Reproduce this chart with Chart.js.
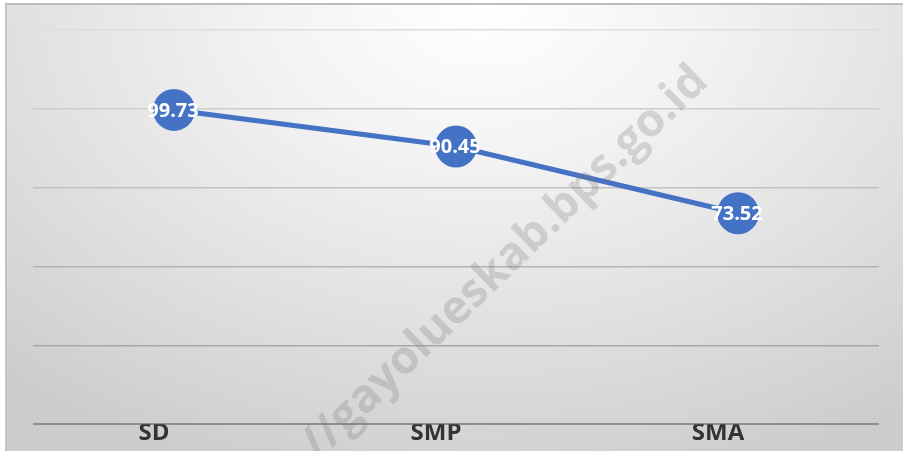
<!DOCTYPE html>
<html>
<head>
<meta charset="utf-8">
<script src="https://cdn.jsdelivr.net/npm/chart.js@4"></script>
<style>
  html, body { margin: 0; padding: 0; background: #fff; }
  #frame {
    position: absolute; left: 5px; top: 3px; width: 898px; height: 448px;
    border-top: 2px solid #bdbdbd; border-left: 2px solid #c4c4c4;
    background: radial-gradient(ellipse 720px 500px at 53% 0%, #ffffff 0%, #f3f3f3 30%, #e2e2e2 62%, #d2d2d2 90%, #cccccc 100%);
  }
  #wrap { position: absolute; left: 0; top: 0; width: 896px; height: 446px; }
</style>
</head>
<body>
<div id="frame"><div id="wrap"><canvas id="chart"></canvas></div></div>
<script>
const categories = ['SD', 'SMP', 'SMA'];
const values = [99.73, 90.45, 73.52];
const yTicks = [20, 40, 60, 80, 100, 120];
const watermark = '//gayolueskab.bps.go.id';

const gridColors = { 20: '#8e8e8e', 40: '#a8a8a8', 60: '#b4b4b4', 80: '#c2c2c2', 100: '#cdcdcd', 120: '#dedede' };

// label angka di tengah titik
const valueLabels = {
    id: 'valueLabels',
    afterDatasetsDraw(chart) {
        const ctx = chart.ctx;
        const meta = chart.getDatasetMeta(0);
        ctx.save();
        ctx.font = 'bold 20px "Open Sans"';
        ctx.fillStyle = '#ffffff';
        ctx.textAlign = 'center';
        ctx.textBaseline = 'middle';
        meta.data.forEach((pt, i) => {
            ctx.fillText(values[i].toFixed(2), pt.x - 1, pt.y + 1);
        });
        ctx.restore();
    }
};

// watermark miring
const watermarkPlugin = {
    id: 'watermarkPlugin',
    afterDraw(chart) {
        const ctx = chart.ctx;
        ctx.save();
        ctx.translate(498, 258);
        ctx.rotate(-44 * Math.PI / 180);
        ctx.font = 'bold 46px "Open Sans"';
        ctx.fillStyle = 'rgba(120,120,120,0.26)';
        ctx.textAlign = 'center';
        ctx.textBaseline = 'middle';
        ctx.fillText(watermark, 0, 0);
        ctx.restore();
    }
};

new Chart(document.getElementById('chart'), {
    type: 'line',
    data: {
        labels: categories,
        datasets: [{
            data: values,
            borderColor: '#4472C4',
            backgroundColor: '#4472C4',
            borderWidth: 5,
            pointRadius: 21,
            pointHoverRadius: 21,
            pointBorderWidth: 0,
            tension: 0
        }]
    },
    options: {
        responsive: true,
        maintainAspectRatio: false,
        animation: false,
        layout: { padding: { left: 26, right: 24, top: 25, bottom: 8 } },
        plugins: { legend: { display: false }, tooltip: { enabled: false } },
        scales: {
            x: {
                offset: true,
                grid: { display: false, drawTicks: false },
                border: { display: false },
                ticks: { color: '#333333', font: { family: 'Open Sans', weight: 'bold', size: 24 }, padding: -5, labelOffset: -20 }
            },
            y: {
                min: 20, max: 120,
                afterBuildTicks(axis) { axis.ticks = yTicks.map(v => ({ value: v })); },
                grid: {
                    drawTicks: false,
                    color: c => gridColors[c.tick.value] || '#bbbbbb',
                    lineWidth: c => c.tick.value === 20 ? 2 : 1.5
                },
                border: { display: false },
                ticks: { display: false }
            }
        }
    },
    plugins: [valueLabels, watermarkPlugin]
});
</script>
</body>
</html>
